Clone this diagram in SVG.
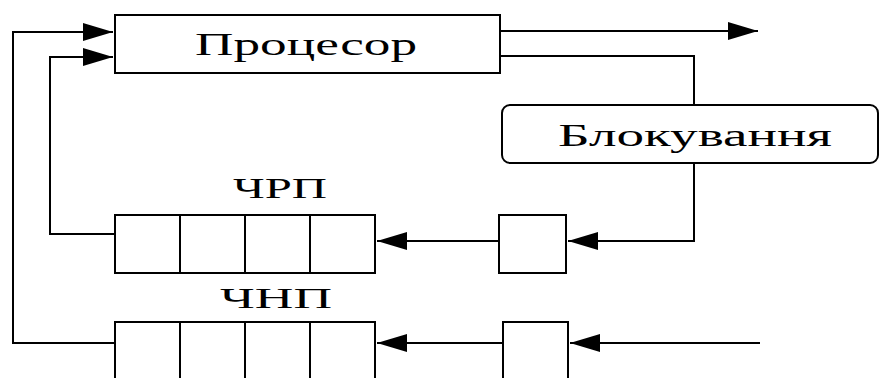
<svg xmlns="http://www.w3.org/2000/svg" width="879" height="378" viewBox="0 0 879 378">
<style>
.b{fill:#fff;stroke:#000;stroke-width:2}
.c{fill:none;stroke:#000;stroke-width:2}
.t{font-family:"Liberation Serif","Times New Roman",serif;fill:#000}
</style>
<defs>
<marker id="ah" markerUnits="userSpaceOnUse" markerWidth="34" markerHeight="22" viewBox="0 0 34 22" refX="32" refY="10" orient="auto">
<path d="M2,1 L32,10 L2,19 z" fill="#000"/>
</marker>
</defs>
<rect width="879" height="378" fill="#fff"/>
<g id="connectors">
<path class="c" d="M115,343 H13 V32 H113" marker-end="url(#ah)"/>
<path class="c" d="M115,234 H50 V57 H113" marker-end="url(#ah)"/>
<path class="c" d="M500,31 H758" marker-end="url(#ah)"/>
<path class="c" d="M500,56 H694 V105"/>
<path class="c" d="M694,163 V241 H568" marker-end="url(#ah)"/>
<path class="c" d="M499,241 H377" marker-end="url(#ah)"/>
<path class="c" d="M760,343 H570" marker-end="url(#ah)"/>
<path class="c" d="M503,343 H377" marker-end="url(#ah)"/>
</g>
<g id="processor">
<rect class="b" x="115" y="15" width="385" height="58"/>
<text class="t" x="195" y="55" font-size="32" textLength="222" lengthAdjust="spacingAndGlyphs">Процесор</text>
</g>
<g id="blocking">
<rect class="b" x="502" y="105" width="376" height="58" rx="8" ry="8"/>
<text class="t" x="558" y="146" font-size="31" textLength="274" lengthAdjust="spacingAndGlyphs">Блокування</text>
</g>
<g id="chrp">
<text class="t" x="233" y="198" font-size="30" textLength="94" lengthAdjust="spacingAndGlyphs">ЧРП</text>
<rect class="b" x="115" y="215" width="260" height="58"/>
<path class="c" d="M180,215 V273 M245,215 V273 M310,215 V273"/>
</g>
<g id="chnp">
<text class="t" x="220" y="308" font-size="30" textLength="112" lengthAdjust="spacingAndGlyphs">ЧНП</text>
<rect class="b" x="115" y="322" width="260" height="70"/>
<path class="c" d="M180,322 V392 M245,322 V392 M310,322 V392"/>
</g>
<g id="gate1">
<rect class="b" x="499" y="215" width="67" height="58"/>
</g>
<g id="gate2">
<rect class="b" x="503" y="322" width="65" height="70"/>
</g>
</svg>
